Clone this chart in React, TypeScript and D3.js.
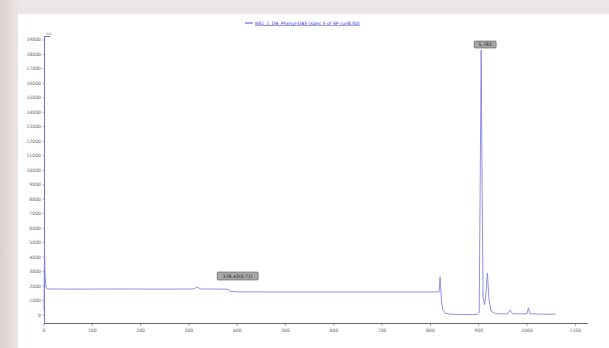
import React from "react"
import * as d3 from "d3"

// trace (x in scan units, y in signal units)
const times = [0, 1, 2, 4, 8, 60, 150, 250, 310, 317, 324, 370, 381, 386, 400, 500, 600, 700, 800, 818, 820, 823, 826, 832, 840, 860, 880, 897, 901, 903, 905, 907, 909, 912, 915, 918, 921, 925, 934, 950, 960, 965, 970, 990, 1000, 1003, 1006, 1030, 1059]
const signal = [300, 4800, 3000, 1900, 1800, 1790, 1800, 1790, 1800, 1930, 1800, 1790, 1780, 1640, 1600, 1590, 1590, 1590, 1590, 1600, 2650, 900, 300, 120, 60, 40, 30, 30, 200, 9000, 18300, 9000, 1200, 700, 1500, 2900, 1200, 300, 100, 80, 90, 350, 90, 80, 90, 500, 90, 60, 60]

const xTicks = [0, 100, 200, 300, 400, 500, 600, 700, 800, 900, 1000, 1100]
const yTicks = d3.range(0, 19001, 1000)

const legendLabel = "NS1_1_DB_Phenyl-UB5 (spec 5 of 6P run8.fid)"
const peakLabels = [
  { x: 905, text: "5.783" },
  { x: 400, text: "378.42(0.71)" },
]

export default function App() {
  const width = 609
  const height = 348
  const x = d3.scaleLinear().domain([0, 1120]).range([44, 585])
  const y = d3.scaleLinear().domain([-550, 19200]).range([323, 37])

  const line = d3
    .line<number>()
    .x((_, i) => x(times[i]))
    .y((d) => y(d))

  const font = "'DejaVu Sans', sans-serif"

  return (
    <svg width={width} height={height} style={{ position: "fixed", left: 0, top: 0 }}>
      <defs>
        <linearGradient id="bgLeft" x1="0" x2="1" y1="0" y2="0">
          <stop offset="0" stopColor="#ddd0d0" />
          <stop offset="1" stopColor="#ece4e4" />
        </linearGradient>
      </defs>
      <rect width={width} height={height} fill="#ece6e6" />
      <rect width={18} height={height} fill="url(#bgLeft)" />
      <rect x={18} y={14} width={width - 18} height={height - 14} fill="#ffffff" />

      {/* legend */}
      <line x1={245} x2={253} y1={23} y2={23} stroke="#5050d0" strokeWidth={1} />
      <text x={255} y={24.5} fontSize={4.6} fill="#3333cc" fontFamily={font} textDecoration="underline">
        {legendLabel}
      </text>

      {/* y axis */}
      <line x1={44.5} x2={44.5} y1={36} y2={323} stroke="#7373c8" strokeWidth={1} />
      <line x1={44.5} x2={50} y1={36.5} y2={36.5} stroke="#7373c8" strokeWidth={1} />
      <text x={46} y={35} fontSize={3.2} fill="#777" fontFamily={font}>
        mV
      </text>
      {yTicks.map((t) => (
        <g key={t}>
          <line x1={42.5} x2={44.5} y1={y(t)} y2={y(t)} stroke="#7373c8" strokeWidth={0.6} />
          <text x={41} y={y(t) + 1.6} fontSize={4.6} fill="#666" textAnchor="end" fontFamily={font}>
            {t}
          </text>
        </g>
      ))}

      {/* x axis */}
      <line x1={44} x2={588} y1={323.5} y2={323.5} stroke="#666" strokeWidth={1.2} />
      {xTicks.map((t) => (
        <g key={t}>
          <line x1={x(t)} x2={x(t)} y1={323.5} y2={326} stroke="#666" strokeWidth={0.6} />
          <text x={x(t)} y={332} fontSize={4.6} fill="#666" textAnchor="middle" fontFamily={font}>
            {t}
          </text>
        </g>
      ))}

      {/* trace */}
      <path d={line(signal) ?? ""} fill="none" stroke="#8585e0" strokeWidth={0.9} />

      {/* peak labels */}
      <g>
        <rect x={x(peakLabels[0].x) - 7} y={41} width={22} height={7} rx={1} fill="#a8a8a8" stroke="#555" strokeWidth={0.6} />
        <text x={x(peakLabels[0].x) + 4} y={46.3} fontSize={4.6} fill="#222" textAnchor="middle" fontFamily={font}>
          {peakLabels[0].text}
        </text>
        <rect x={x(peakLabels[1].x) - 20} y={272} width={41} height={8} rx={1} fill="#a8a8a8" stroke="#555" strokeWidth={0.6} />
        <text x={x(peakLabels[1].x) + 0.5} y={277.8} fontSize={4.6} fill="#222" textAnchor="middle" fontFamily={font}>
          {peakLabels[1].text}
        </text>
      </g>
    </svg>
  )
}
